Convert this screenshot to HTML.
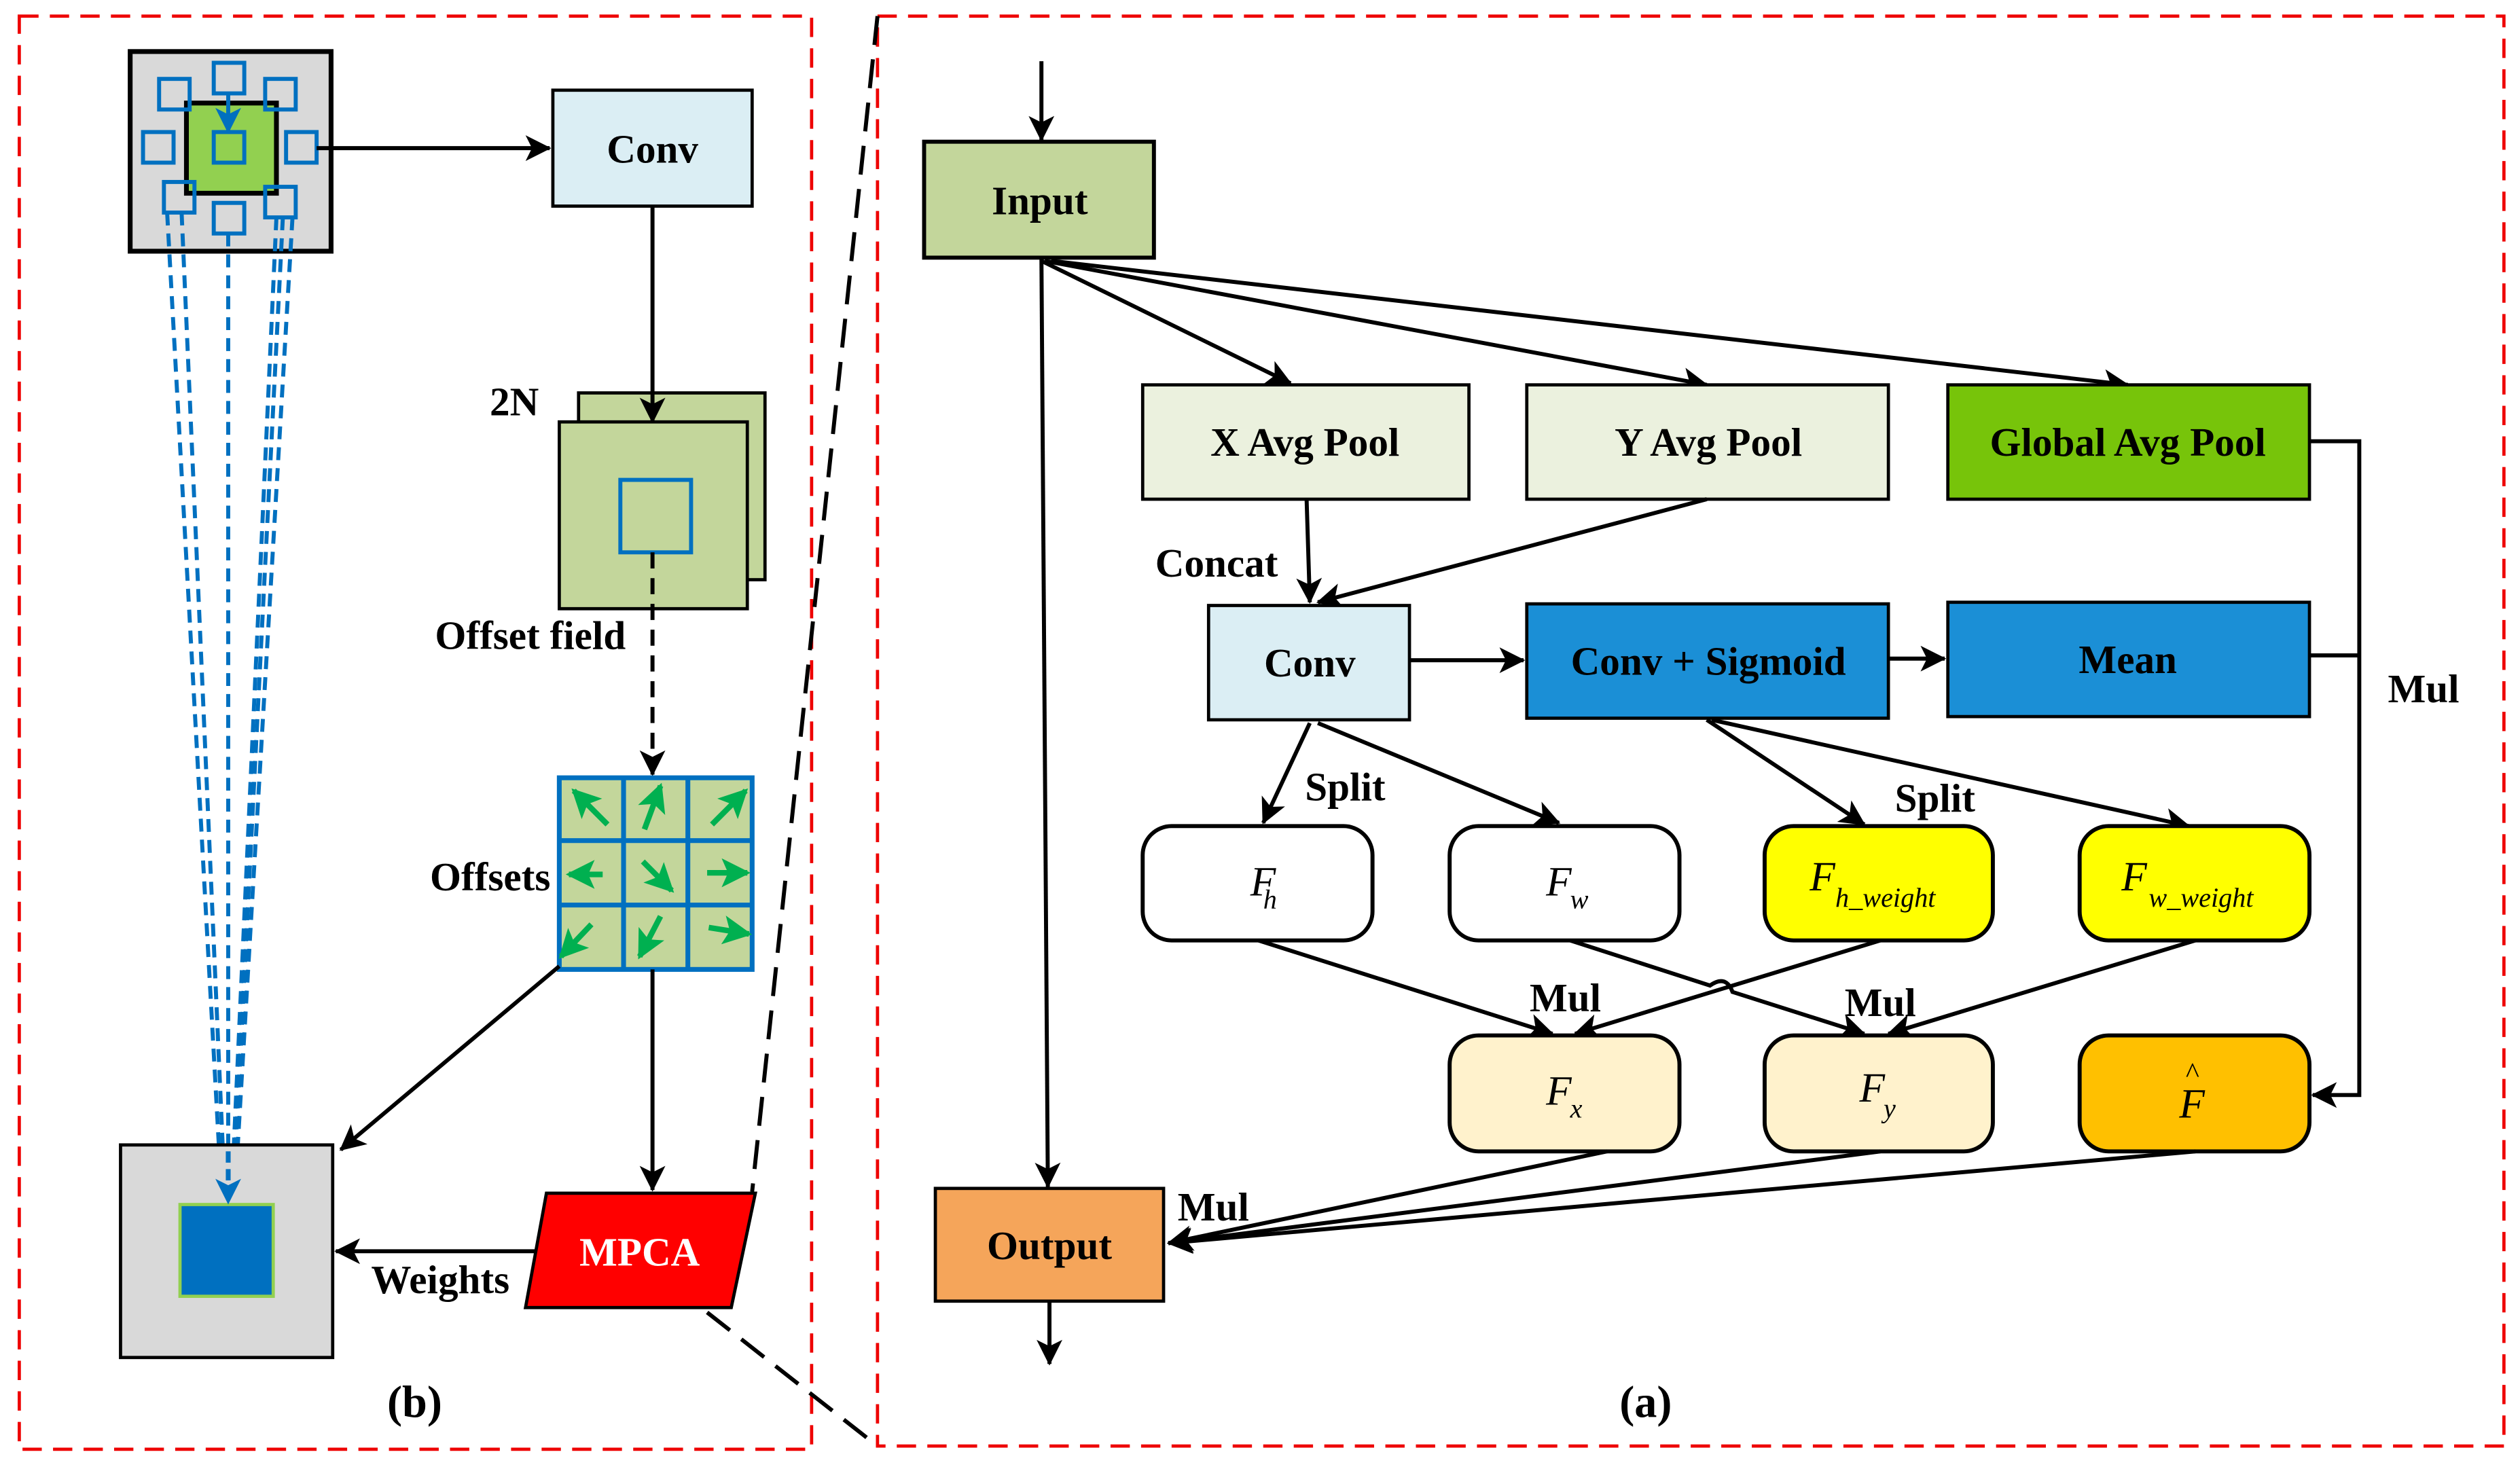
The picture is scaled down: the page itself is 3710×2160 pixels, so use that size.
<!DOCTYPE html>
<html><head><meta charset="utf-8"><style>
html,body{margin:0;padding:0;background:#fff;}
svg{display:block;}
text{font-family:"Liberation Serif",serif;}
.b{font-weight:bold;font-size:25px;}
.i{font-style:italic;font-size:26px;}
.s{font-style:italic;font-size:17px;}
</style></head><body>
<svg width="3710" height="2160" viewBox="0 0 1568 911" preserveAspectRatio="none" xmlns="http://www.w3.org/2000/svg">
<defs>
<marker id="a2" markerWidth="16" markerHeight="16" refX="15" refY="8" orient="auto" markerUnits="userSpaceOnUse" viewBox="0 0 16 16"><path d="M0,0 L16,8 L0,16 L4,8 z" fill="#000"/></marker>
<marker id="ab" markerWidth="16" markerHeight="16" refX="15" refY="8" orient="auto" markerUnits="userSpaceOnUse" viewBox="0 0 16 16"><path d="M0,0 L16,8 L0,16 L4,8 z" fill="#0070c0"/></marker>
<marker id="g" markerWidth="18" markerHeight="18" refX="16" refY="9" orient="auto" markerUnits="userSpaceOnUse" viewBox="0 0 18 18"><path d="M0,0 L18,9 L0,18 L4,9 z" fill="#00b050"/></marker>
</defs>
<!-- dashed frames -->
<rect x="12" y="10" width="493" height="890" fill="none" stroke="#e00" stroke-width="2" stroke-dasharray="12,7"/>
<rect x="546" y="10" width="1012" height="888" fill="none" stroke="#e00" stroke-width="2" stroke-dasharray="12,7"/>
<line x1="546" y1="10" x2="468" y2="740" stroke="#000" stroke-width="2.5" stroke-dasharray="18,9"/>
<line x1="440" y1="815" x2="546" y2="898" stroke="#000" stroke-width="2.5" stroke-dasharray="18,9"/>

<!-- LEFT (b) -->
<rect x="81" y="32" width="125" height="124" fill="#d9d9d9" stroke="#000" stroke-width="3"/>
<rect x="116" y="64" width="56" height="56" fill="#92d050" stroke="#000" stroke-width="3"/>
<g fill="none" stroke="#0070c0" stroke-width="2.5">
<rect x="133" y="39" width="19" height="19"/>
<rect x="99" y="49" width="19" height="19"/>
<rect x="165" y="49" width="19" height="19"/>
<rect x="89" y="82" width="19" height="19"/>
<rect x="178" y="82" width="19" height="19"/>
<rect x="133" y="82" width="19" height="19"/>
<rect x="102" y="113" width="19" height="19"/>
<rect x="133" y="126" width="19" height="19"/>
<rect x="165" y="116" width="19" height="19"/>
</g>
<line x1="142" y1="58" x2="142" y2="82" stroke="#0070c0" stroke-width="2.5" marker-end="url(#ab)"/>
<line x1="197" y1="92" x2="342" y2="92" stroke="#000" stroke-width="2.5" marker-end="url(#a2)"/>
<g stroke="#0070c0" stroke-width="2.5" stroke-dasharray="8,5" fill="none">
<line x1="104" y1="132" x2="138" y2="744"/>
<line x1="113" y1="132" x2="140" y2="744"/>
<line x1="142" y1="145" x2="142" y2="744"/>
<line x1="172" y1="135" x2="144" y2="744"/>
<line x1="176" y1="135" x2="145" y2="744"/>
<line x1="182" y1="135" x2="146" y2="744"/>
</g>

<rect x="344" y="56" width="124" height="72" fill="#dbeef4" stroke="#000" stroke-width="2"/>
<text x="406" y="101" class="b" text-anchor="middle">Conv</text>
<rect x="360" y="244" width="116" height="116" fill="#c3d69b" stroke="#000" stroke-width="2"/>
<rect x="348" y="262" width="117" height="116" fill="#c3d69b" stroke="#000" stroke-width="2"/>
<rect x="386" y="298" width="44" height="45" fill="none" stroke="#0070c0" stroke-width="2.5"/>
<line x1="406" y1="128" x2="406" y2="262" stroke="#000" stroke-width="2.5" marker-end="url(#a2)"/>
<text x="320" y="258" class="b" text-anchor="middle">2N</text>
<text x="330" y="403" class="b" text-anchor="middle">Offset field</text>
<line x1="406" y1="343" x2="406" y2="481" stroke="#000" stroke-width="2.5" stroke-dasharray="10,6" marker-end="url(#a2)"/>

<rect x="348" y="483" width="120" height="119" fill="#c3d69b" stroke="#0070c0" stroke-width="3"/>
<line x1="388" y1="483" x2="388" y2="602" stroke="#0070c0" stroke-width="3"/>
<line x1="428" y1="483" x2="428" y2="602" stroke="#0070c0" stroke-width="3"/>
<line x1="348" y1="522" x2="468" y2="522" stroke="#0070c0" stroke-width="3"/>
<line x1="348" y1="562" x2="468" y2="562" stroke="#0070c0" stroke-width="3"/>
<g stroke="#00b050" stroke-width="3.5" marker-end="url(#g)">
<line x1="378" y1="512" x2="357" y2="491"/>
<line x1="401" y1="515" x2="411" y2="488"/>
<line x1="443" y1="512" x2="464" y2="491"/>
<line x1="375" y1="543" x2="354" y2="543"/>
<line x1="400" y1="535" x2="418" y2="553"/>
<line x1="440" y1="542" x2="465" y2="542"/>
<line x1="368" y1="574" x2="349" y2="594"/>
<line x1="411" y1="569" x2="398" y2="594"/>
<line x1="441" y1="576" x2="466" y2="580"/>
</g>
<text x="305" y="553" class="b" text-anchor="middle">Offsets</text>
<line x1="348" y1="600" x2="212" y2="714" stroke="#000" stroke-width="2.5" marker-end="url(#a2)"/>
<line x1="406" y1="602" x2="406" y2="739" stroke="#000" stroke-width="2.5" marker-end="url(#a2)"/>
<polygon points="340,741 470,741 455,812 327,812" fill="#ff0000" stroke="#000" stroke-width="2"/>
<text x="398" y="786" class="b" text-anchor="middle" fill="#fff">MPCA</text>
<line x1="333" y1="777" x2="209" y2="777" stroke="#000" stroke-width="2.5" marker-end="url(#a2)"/>
<text x="274" y="803" class="b" text-anchor="middle">Weights</text>
<rect x="75" y="711" width="132" height="132" fill="#d9d9d9" stroke="#000" stroke-width="2"/>
<rect x="112" y="748" width="58" height="57" fill="#0070c0" stroke="#92d050" stroke-width="2"/>
<line x1="142" y1="715" x2="142" y2="747" stroke="#0070c0" stroke-width="3" stroke-dasharray="7,4" marker-end="url(#ab)"/>
<text x="258" y="880" class="b" text-anchor="middle" style="font-size:28px">(b)</text>

<!-- RIGHT (a) -->
<line x1="648" y1="38" x2="648" y2="87" stroke="#000" stroke-width="2.5" marker-end="url(#a2)"/>
<rect x="575" y="88" width="143" height="72" fill="#c3d69b" stroke="#000" stroke-width="2.5"/>
<text x="647" y="133" class="b" text-anchor="middle">Input</text>
<g stroke="#000" stroke-width="2.5" fill="none">
<line x1="648" y1="160" x2="652" y2="737" marker-end="url(#a2)"/>
<line x1="648" y1="162" x2="803" y2="238" marker-end="url(#a2)"/>
<line x1="650" y1="162" x2="1062" y2="239" marker-end="url(#a2)"/>
<line x1="654" y1="162" x2="1324" y2="239" marker-end="url(#a2)"/>
</g>
<rect x="711" y="239" width="203" height="71" fill="#ebf1de" stroke="#000" stroke-width="2"/>
<text x="812" y="283" class="b" text-anchor="middle">X Avg Pool</text>
<rect x="950" y="239" width="225" height="71" fill="#ebf1de" stroke="#000" stroke-width="2"/>
<text x="1063" y="283" class="b" text-anchor="middle">Y Avg Pool</text>
<rect x="1212" y="239" width="225" height="71" fill="#77c40a" stroke="#000" stroke-width="2"/>
<text x="1324" y="283" class="b" text-anchor="middle">Global Avg Pool</text>
<polyline points="1437,274 1468,274 1468,680 1439,680" fill="none" stroke="#000" stroke-width="2.5" marker-end="url(#a2)"/>
<line x1="1437" y1="407" x2="1468" y2="407" stroke="#000" stroke-width="2.5"/>
<text x="1508" y="436" class="b" text-anchor="middle">Mul</text>
<line x1="813" y1="310" x2="815" y2="374" stroke="#000" stroke-width="2.5" marker-end="url(#a2)"/>
<line x1="1062" y1="310" x2="820" y2="374" stroke="#000" stroke-width="2.5" marker-end="url(#a2)"/>
<text x="757" y="358" class="b" text-anchor="middle">Concat</text>
<rect x="752" y="376" width="125" height="71" fill="#dbeef4" stroke="#000" stroke-width="2"/>
<text x="815" y="420" class="b" text-anchor="middle">Conv</text>
<line x1="877" y1="410" x2="948" y2="410" stroke="#000" stroke-width="2.5" marker-end="url(#a2)"/>
<rect x="950" y="375" width="225" height="71" fill="#1b8fd6" stroke="#000" stroke-width="2"/>
<text x="1063" y="419" class="b" text-anchor="middle">Conv + Sigmoid</text>
<line x1="1175" y1="409" x2="1210" y2="409" stroke="#000" stroke-width="2.5" marker-end="url(#a2)"/>
<rect x="1212" y="374" width="225" height="71" fill="#1b8fd6" stroke="#000" stroke-width="2"/>
<text x="1324" y="418" class="b" text-anchor="middle">Mean</text>

<g stroke="#000" stroke-width="2.5" fill="none">
<line x1="815" y1="449" x2="786" y2="511" marker-end="url(#a2)"/>
<line x1="820" y1="449" x2="970" y2="511" marker-end="url(#a2)"/>
<line x1="1062" y1="447" x2="1160" y2="512" marker-end="url(#a2)"/>
<line x1="1065" y1="447" x2="1362" y2="513" marker-end="url(#a2)"/>
</g>
<text x="837" y="497" class="b" text-anchor="middle">Split</text>
<text x="1204" y="504" class="b" text-anchor="middle">Split</text>

<rect x="711" y="513" width="143" height="71" rx="18" fill="#fff" stroke="#000" stroke-width="2.5"/>
<text x="778" y="556" class="i">F</text><text x="786" y="564" class="s">h</text>
<rect x="902" y="513" width="143" height="71" rx="18" fill="#fff" stroke="#000" stroke-width="2.5"/>
<text x="962" y="556" class="i">F</text><text x="977" y="564" class="s">w</text>
<rect x="1098" y="513" width="142" height="71" rx="18" fill="#ffff00" stroke="#000" stroke-width="2.5"/>
<text x="1126" y="553" class="i">F</text><text x="1142" y="563" class="s">h_weight</text>
<rect x="1294" y="513" width="143" height="71" rx="18" fill="#ffff00" stroke="#000" stroke-width="2.5"/>
<text x="1320" y="553" class="i">F</text><text x="1337" y="563" class="s">w_weight</text>

<g stroke="#000" stroke-width="2.5" fill="none">
<line x1="783" y1="584" x2="966" y2="642" marker-end="url(#a2)"/>
<path d="M977,584 L1064,612 Q1074,605 1078,616 L1160,642" marker-end="url(#a2)"/>
<line x1="1170" y1="584" x2="980" y2="642" marker-end="url(#a2)"/>
<line x1="1366" y1="584" x2="1175" y2="642" marker-end="url(#a2)"/>
</g>
<text x="974" y="628" class="b" text-anchor="middle">Mul</text>
<text x="1170" y="631" class="b" text-anchor="middle">Mul</text>

<rect x="902" y="643" width="143" height="72" rx="18" fill="#fff2cc" stroke="#000" stroke-width="2.5"/>
<text x="962" y="686" class="i">F</text><text x="977" y="694" class="s">x</text>
<rect x="1098" y="643" width="142" height="72" rx="18" fill="#fff2cc" stroke="#000" stroke-width="2.5"/>
<text x="1157" y="684" class="i">F</text><text x="1172" y="694" class="s">y</text>
<rect x="1294" y="643" width="143" height="72" rx="18" fill="#ffc000" stroke="#000" stroke-width="2.5"/>
<text x="1356" y="694" class="i">F</text><text x="1360" y="672" style="font-size:18px">^</text>

<g stroke="#000" stroke-width="2.5" fill="none">
<line x1="1000" y1="715" x2="727" y2="772" marker-end="url(#a2)"/>
<line x1="1170" y1="715" x2="727" y2="772" marker-end="url(#a2)"/>
<line x1="1366" y1="715" x2="727" y2="772" marker-end="url(#a2)"/>
</g>
<rect x="582" y="738" width="142" height="70" fill="#f5a55a" stroke="#000" stroke-width="2"/>
<text x="653" y="782" class="b" text-anchor="middle">Output</text>
<text x="755" y="758" class="b" text-anchor="middle">Mul</text>
<line x1="653" y1="808" x2="653" y2="847" stroke="#000" stroke-width="2.5" marker-end="url(#a2)"/>
<text x="1024" y="880" class="b" text-anchor="middle" style="font-size:28px">(a)</text>
</svg>
</body></html>
